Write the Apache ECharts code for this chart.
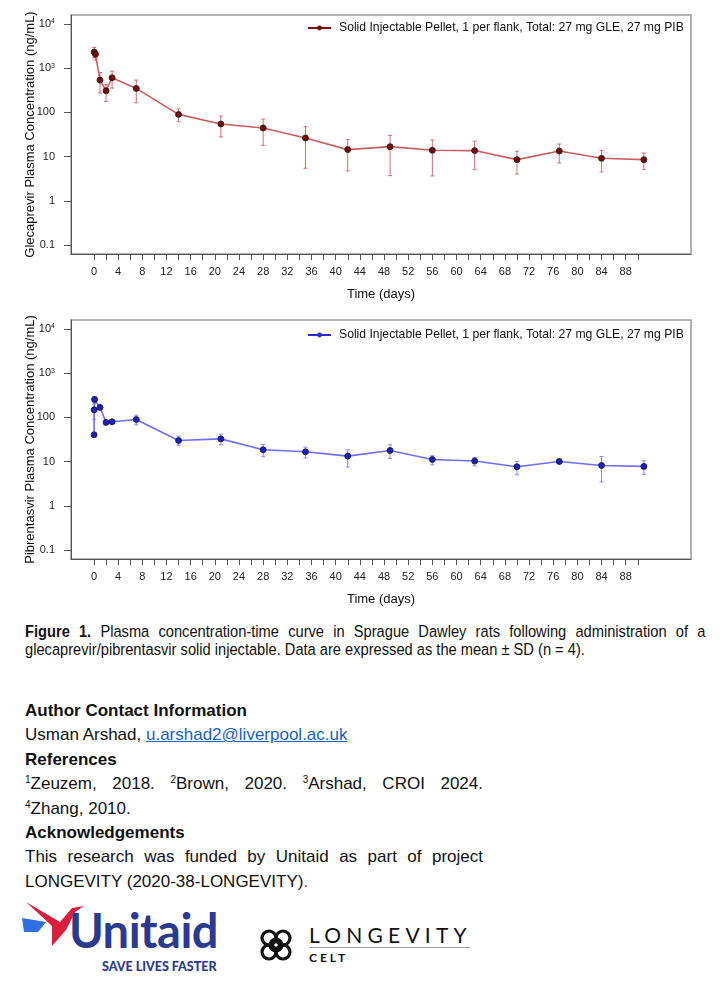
<!DOCTYPE html>
<html>
<head>
<meta charset="utf-8">
<title>Glecaprevir / Pibrentasvir plasma concentration</title>
<script src="https://cdn.jsdelivr.net/npm/echarts@6/dist/echarts.min.js"></script>
<style>
  body { margin: 0; width: 723px; height: 996px; background: #fff; overflow: hidden; position: relative;
         font-family: 'Liberation Sans', Arial, sans-serif; color: #111; }
  #chart { position: absolute; left: 0; top: 0; width: 723px; height: 615px; }
  /* caption in the poster is a condensed face: squeeze a regular one */
  .caption { position: absolute; left: 25px; top: 622px; width: 756px; font-size: 16.3px; line-height: 18px;
             transform: scaleX(0.9); transform-origin: 0 0; }
  .just { text-align: justify; text-align-last: justify; white-space: nowrap; }
  .info { position: absolute; left: 25px; top: 699px; width: 458px; font-size: 17px; line-height: 24.4px; }
  .info b { font-weight: bold; }
  .info a { color: #1a5fc8; text-decoration: underline; }
  sup { font-size: 10px; vertical-align: 6px; line-height: 0; }
  .unitaid { position: absolute; left: 69px; top: 902px; font-family: Lato, 'Noto Sans', sans-serif; font-weight: 700;
             font-size: 47px; color: #2b3990; letter-spacing: -0.5px; }
  .save { position: absolute; left: 102px; top: 959px; font-family: Lato, 'Noto Sans', sans-serif; font-weight: 900;
          font-size: 12.5px; color: #2b3990; }
  .longevity { position: absolute; left: 309px; top: 922px; font-family: Lato, 'Noto Sans', sans-serif; font-size: 21px;
               letter-spacing: 5.2px; color: #111; }
  .rule { position: absolute; left: 309px; top: 947px; width: 161px; height: 1px; background: #9a9a9a; }
  .celt { position: absolute; left: 309px; top: 950px; font-family: Lato, 'Noto Sans', sans-serif; font-weight: 700;
          font-size: 12px; letter-spacing: 3px; color: #111; }
  svg { position: absolute; }
</style>
</head>
<body>
<div id="chart"></div>

<div class="caption">
  <div class="just"><b>Figure 1.</b> Plasma concentration-time curve in Sprague Dawley rats following administration of a</div>
  <div>glecaprevir/pibrentasvir solid injectable. Data are expressed as the mean ± SD (n = 4).</div>
</div>

<div class="info">
  <div><b>Author Contact Information</b></div>
  <div>Usman Arshad, <a>u.arshad2@liverpool.ac.uk</a></div>
  <div><b>References</b></div>
  <div class="just"><sup>1</sup>Zeuzem, 2018. <sup>2</sup>Brown, 2020. <sup>3</sup>Arshad, CROI 2024.</div>
  <div><sup>4</sup>Zhang, 2010.</div>
  <div><b>Acknowledgements</b></div>
  <div class="just">This research was funded by Unitaid as part of project</div>
  <div>LONGEVITY (2020-38-LONGEVITY)<span style="color:#c0102a">.</span></div>
</div>

<svg style="left:20px;top:900px" width="70" height="48" viewBox="0 0 70 48">
  <polygon points="2,18 26,22 18,32 4,32" fill="#2f6fe0"/>
  <polygon points="6,2 40,22 52,8 64,6 55,12 46,30 32,46 32,26" fill="#d81e3a"/>
</svg>
<div class="unitaid">Unitaid</div>
<div class="save">SAVE LIVES FASTER</div>

<svg style="left:256px;top:925px" width="40" height="40" viewBox="0 0 40 40">
  <g fill="none" stroke="#111" stroke-width="3.2">
    <circle cx="13" cy="13" r="7"/><circle cx="27" cy="13" r="7"/>
    <circle cx="13" cy="27" r="7"/><circle cx="27" cy="27" r="7"/>
    <circle cx="20" cy="20" r="6"/>
  </g>
</svg>
<div class="longevity">LONGEVITY</div>
<div class="rule"></div>
<div class="celt">CELT</div>

<script>
// tick positions and labels
const xTicks = [0, 2, 4, 6, 8, 10, 12, 14, 16, 18, 20, 22, 24, 26, 28, 30, 32, 34, 36, 38, 40, 42, 44,
  46, 48, 50, 52, 54, 56, 58, 60, 62, 64, 66, 68, 70, 72, 74, 76, 78, 80, 82, 84, 86, 88, 90];
const xLabels = [0, 4, 8, 12, 16, 20, 24, 28, 32, 36, 40, 44, 48, 52, 56, 60, 64, 68, 72, 76, 80, 84, 88];
const yTicks = [0.1, 1, 10, 100, 1000, 10000];
const yTickLabels = ['0.1', '1', '10', '100', '10{s|3}', '10{s|4}'];

const legendLabel = 'Solid Injectable Pellet, 1 per flank, Total: 27 mg GLE, 27 mg PIB';

// Glecaprevir (ng/mL), mean and mean ± SD
const gleDays  = [0.04, 0.25, 1, 2, 3, 7, 14, 21, 28, 35, 42, 49, 56, 63, 70, 77, 84, 91];
const gleMean  = [2300, 2050, 536, 308, 605, 348, 90, 54.6, 44.4, 26.4, 14.4, 16.8, 13.9, 13.7, 8.55, 13.4, 9.16, 8.55];
const gleUpper = [2930, 2500, 798, 421, 856, 536, 119, 82.6, 70.8, 47.5, 24.2, 30.3, 23.8, 22.2, 13.2, 19.3, 13.9, 12.1];
const gleLower = [1700, 1520, 273, 177, 354, 165, 61.5, 27.8, 18.0, 5.46, 4.75, 3.72, 3.66, 5.09, 4.06, 7.19, 4.51, 5.09];

// Pibrentasvir (ng/mL), mean and mean ± SD
const pibDays  = [0.02, 0.04, 0.1, 1, 2, 3, 7, 14, 21, 28, 35, 42, 49, 56, 63, 70, 77, 84, 91];
const pibMean  = [40.5, 148, 254, 168, 77, 79.6, 89.2, 30.0, 32.7, 18.5, 16.7, 13.3, 17.9, 11.2, 10.3, 7.66, 10.1, 8.2, 7.8];
const pibUpper = [44, 200, 294, 185, 82, 84, 112, 37.6, 41.7, 24.4, 21.2, 18.5, 24.0, 13.6, 12.4, 10.1, 11.4, 13.1, 10.5];
const pibLower = [37, 91, 210, 152, 72, 75, 67.6, 23.6, 24.0, 12.9, 12.2, 7.54, 11.8, 8.5, 8.07, 5.06, 8.96, 3.46, 5.15];

const font = "'Liberation Sans', Arial, sans-serif";
const axisColor = '#555';

const chart = echarts.init(document.getElementById('chart'));

function errorBarRenderer(color) {
  return function (params, api) {
    const x = api.value(0);
    const lo = api.coord([x, api.value(1)]);
    const hi = api.coord([x, api.value(2)]);
    const cap = 2;
    const style = { stroke: color, lineWidth: 1 };
    return {
      type: 'group',
      children: [
        { type: 'line', shape: { x1: lo[0], y1: lo[1], x2: hi[0], y2: hi[1] }, style },
        { type: 'line', shape: { x1: lo[0] - cap, y1: lo[1], x2: lo[0] + cap, y2: lo[1] }, style },
        { type: 'line', shape: { x1: hi[0] - cap, y1: hi[1], x2: hi[0] + cap, y2: hi[1] }, style }
      ]
    };
  };
}

function xAxisFor(i) {
  return {
    type: 'value', gridIndex: i, min: -3.8, max: 98.8,
    name: 'Time (days)', nameLocation: 'middle', nameGap: 34,
    nameTextStyle: { fontFamily: font, fontSize: 13, color: '#111' },
    axisLine: { show: true, onZero: false, lineStyle: { color: axisColor, width: 1 } },
    axisTick: { show: true, length: 6, customValues: xTicks, lineStyle: { color: axisColor } },
    axisLabel: { customValues: xLabels, fontFamily: font, fontSize: 11, color: '#222', margin: 12 },
    splitLine: { show: false }
  };
}

function yAxisFor(i, name) {
  return {
    type: 'log', logBase: 10, gridIndex: i, min: Math.pow(10, -1.2), max: Math.pow(10, 4.2),
    name: name, nameLocation: 'middle', nameGap: 34, nameRotate: 90, nameMoveOverlap: false,
    nameTextStyle: { fontFamily: font, fontSize: 13, color: '#111' },
    axisLine: { show: true, onZero: false, lineStyle: { color: axisColor, width: 1 } },
    axisTick: { show: true, length: 7, customValues: yTicks, lineStyle: { color: axisColor } },
    axisLabel: {
      customValues: yTicks, fontFamily: font, fontSize: 11, color: '#222', margin: 16,
      formatter: v => yTickLabels[Math.round(Math.log10(v)) + 1],
      rich: { s: { fontSize: 7, fontFamily: font, color: '#222', verticalAlign: 'top', padding: [0, 0, 5, 0] } }
    },
    splitLine: { show: false }
  };
}

function seriesFor(i, key, days, mean, lower, upper, lineColor, dotColor, barColor) {
  return [
    {
      type: 'custom', xAxisIndex: i, yAxisIndex: i, z: 1, silent: true,
      renderItem: errorBarRenderer(barColor),
      encode: { x: 0, y: [1, 2] },
      data: days.map((d, k) => [d, lower[k], upper[k]])
    },
    {
      name: key, type: 'line', xAxisIndex: i, yAxisIndex: i, z: 3,
      data: days.map((d, k) => [d, mean[k]]),
      symbol: 'circle', symbolSize: 6,
      itemStyle: { color: dotColor, borderColor: '#1a1a1a', borderWidth: 0.8 },
      lineStyle: { color: lineColor, width: 1.6 }
    }
  ];
}

function legendFor(key, top, color) {
  return {
    data: [key], left: 307, top: top, padding: 0, itemWidth: 23, itemHeight: 6, itemGap: 0,
    formatter: () => legendLabel,
    textStyle: { fontFamily: font, fontSize: 12.2, color: '#111', padding: [0, 0, 0, 3] },
    lineStyle: { color: color, width: 2 },
    itemStyle: { color: color, borderWidth: 0 }
  };
}

const option = {
  animation: false,
  backgroundColor: '#fff',
  grid: [
    { left: 71, top: 15, width: 620, height: 239, show: true, borderColor: '#9a9a9a', borderWidth: 1.5 },
    { left: 71, top: 320, width: 620, height: 239, show: true, borderColor: '#9a9a9a', borderWidth: 1.5 }
  ],
  legend: [
    legendFor('GLE', 22, '#7a1010'),
    legendFor('PIB', 329, '#2a2ad0')
  ],
  xAxis: [xAxisFor(0), xAxisFor(1)],
  yAxis: [
    yAxisFor(0, 'Glecaprevir Plasma Concentration (ng/mL)'),
    yAxisFor(1, 'Pibrentasvir Plasma Concentration (ng/mL)')
  ],
  series: [
    ...seriesFor(0, 'GLE', gleDays, gleMean, gleLower, gleUpper, '#cc5c60', '#7a0a0a', '#d66c70'),
    ...seriesFor(1, 'PIB', pibDays, pibMean, pibLower, pibUpper, '#6e6efc', '#1d1dc8', '#8484ff')
  ]
};

chart.setOption(option);
</script>
</body>
</html>
